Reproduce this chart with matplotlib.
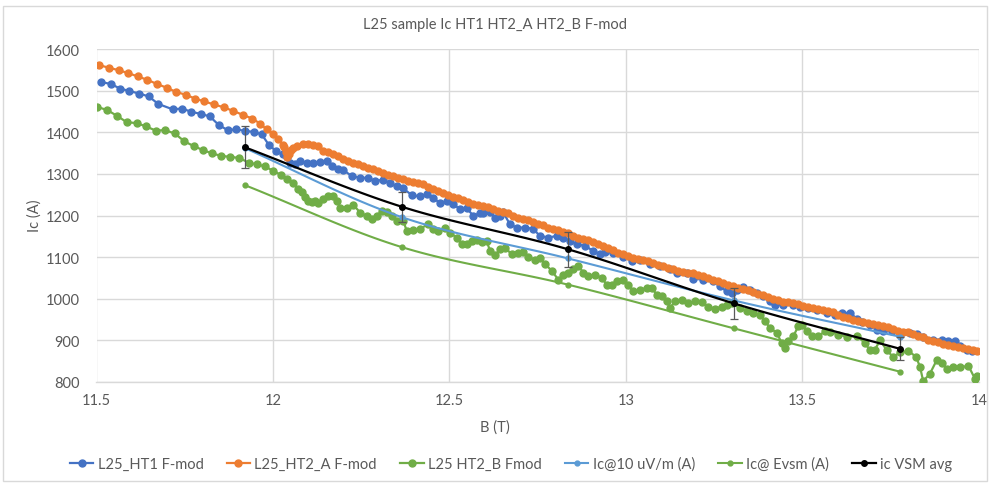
import numpy as np
import matplotlib
matplotlib.use("Agg")
import matplotlib.pyplot as plt
from matplotlib.patches import Rectangle

plt.rcParams['font.family'] = ['Lato', 'DejaVu Sans']

# ---------------- data ----------------
ht1_b = [11.512, 11.540, 11.567, 11.593, 11.621, 11.648, 11.675, 11.716, 11.742, 11.769,
         11.796, 11.821, 11.847, 11.872, 11.896, 11.922, 11.945, 11.968, 11.988, 12.008,
         12.027, 12.040, 12.048, 12.062, 12.076, 12.095, 12.114, 12.133, 12.152, 12.166,
         12.185, 12.199, 12.223, 12.246, 12.270, 12.289, 12.312, 12.331, 12.350, 12.369,
         12.393, 12.416, 12.435, 12.454, 12.473, 12.492, 12.511, 12.530, 12.549, 12.567,
         12.586, 12.596, 12.615, 12.629, 12.643, 12.652, 12.671, 12.690, 12.714, 12.737,
         12.756, 12.780, 12.804, 12.822, 12.841, 12.860, 12.884, 12.907, 12.926, 12.940,
         12.964, 12.992, 13.016, 13.040, 13.068, 13.096, 13.124, 13.144, 13.172, 13.191,
         13.219, 13.247, 13.266, 13.285, 13.299, 13.314, 13.332, 13.351, 13.370, 13.389,
         13.408, 13.422, 13.446, 13.474, 13.493, 13.516, 13.540, 13.569, 13.592, 13.611,
         13.635, 13.654, 13.668, 13.691, 13.710, 13.729, 13.753, 13.776, 13.805, 13.824,
         13.842, 13.871, 13.894, 13.913, 13.932, 13.946, 13.965, 13.979]
ht1_ic = [1521, 1516, 1505, 1499, 1493, 1486, 1468, 1455, 1457, 1449,
          1444, 1438, 1417, 1405, 1407, 1403, 1401, 1395, 1370, 1355,
          1347, 1340, 1327, 1323, 1331, 1327, 1325, 1329, 1331, 1319,
          1311, 1309, 1295, 1291, 1290, 1283, 1286, 1278, 1270, 1265,
          1249, 1246, 1251, 1243, 1229, 1235, 1227, 1215, 1217, 1200,
          1205, 1207, 1208, 1195, 1199, 1208, 1179, 1171, 1171, 1168,
          1151, 1147, 1151, 1147, 1139, 1131, 1127, 1115, 1107, 1112,
          1111, 1101, 1091, 1093, 1083, 1079, 1071, 1063, 1063, 1048,
          1046, 1042, 1030, 1018, 1013, 1022, 1029, 1022, 1014, 1006,
          994, 986, 986, 986, 981, 978, 974, 966, 960, 966,
          966, 952, 944, 938, 926, 922, 922, 914, 918, 916,
          909, 902, 902, 898, 898, 886, 878, 874]

ht2a_b = [11.508, 11.535, 11.563, 11.590, 11.617, 11.644, 11.671, 11.699, 11.725, 11.753,
          11.779, 11.805, 11.833, 11.860, 11.888, 11.914, 11.941, 11.963, 11.982, 11.999,
          12.015, 12.027, 12.031, 12.037, 12.041, 12.045, 12.051, 12.058, 12.068, 12.086,
          12.099, 12.114, 12.128, 12.143, 12.156, 12.171, 12.184, 12.199, 12.213, 12.228,
          12.241, 12.256, 12.269, 12.284, 12.298, 12.313, 12.326, 12.341, 12.354, 12.369,
          12.382, 12.398, 12.411, 12.426, 12.439, 12.454, 12.467, 12.482, 12.496, 12.511,
          12.524, 12.539, 12.552, 12.567, 12.581, 12.595, 12.609, 12.623, 12.637, 12.652,
          12.666, 12.680, 12.694, 12.708, 12.722, 12.737, 12.751, 12.765, 12.779, 12.793,
          12.807, 12.822, 12.836, 12.850, 12.864, 12.878, 12.892, 12.907, 12.921, 12.935,
          12.949, 12.963, 12.977, 12.992, 13.006, 13.020, 13.034, 13.048, 13.062, 13.077,
          13.091, 13.105, 13.119, 13.133, 13.147, 13.162, 13.176, 13.190, 13.204, 13.218,
          13.232, 13.247, 13.261, 13.275, 13.289, 13.303, 13.317, 13.331, 13.346, 13.360,
          13.374, 13.388, 13.402, 13.416, 13.431, 13.445, 13.459, 13.473, 13.487, 13.501,
          13.516, 13.530, 13.544, 13.558, 13.572, 13.586, 13.601, 13.615, 13.629, 13.643,
          13.657, 13.671, 13.686, 13.700, 13.714, 13.728, 13.742, 13.756, 13.771, 13.785,
          13.799, 13.813, 13.827, 13.841, 13.856, 13.870, 13.884, 13.898, 13.912, 13.926,
          13.941, 13.955, 13.969, 13.983, 13.994]
ht2a_ic = [1561, 1555, 1549, 1542, 1534, 1526, 1516, 1507, 1497, 1490,
           1481, 1474, 1467, 1460, 1451, 1442, 1433, 1421, 1407, 1395,
           1383, 1370, 1365, 1352, 1341, 1348, 1357, 1363, 1367, 1371,
           1372, 1369, 1366, 1356, 1352, 1347, 1342, 1336, 1331, 1327,
           1323, 1319, 1315, 1311, 1306, 1302, 1298, 1295, 1291, 1287,
           1284, 1281, 1278, 1275, 1269, 1263, 1259, 1255, 1250, 1245,
           1241, 1237, 1232, 1227, 1226, 1222, 1220, 1216, 1212, 1208,
           1205, 1200, 1195, 1191, 1188, 1185, 1180, 1176, 1170, 1167,
           1165, 1161, 1157, 1150, 1146, 1143, 1140, 1136, 1132, 1127,
           1122, 1116, 1111, 1107, 1103, 1099, 1096, 1093, 1091, 1086,
           1082, 1078, 1074, 1071, 1067, 1065, 1063, 1061, 1058, 1054,
           1050, 1046, 1042, 1038, 1034, 1030, 1027, 1024, 1020, 1016,
           1012, 1008, 1004, 1000, 996, 993, 992, 990, 987, 983,
           979, 977, 975, 972, 970, 968, 961, 956, 953, 950,
           946, 943, 941, 940, 938, 935, 931, 927, 923, 921,
           919, 915, 911, 907, 902, 899, 895, 892, 889, 886,
           883, 881, 879, 877, 874]

ht2b_b = [11.502, 11.531, 11.557, 11.586, 11.614, 11.640, 11.668, 11.694, 11.722, 11.749,
          11.775, 11.802, 11.828, 11.854, 11.879, 11.905, 11.931, 11.954, 11.977, 12.001,
          12.022, 12.040, 12.058, 12.072, 12.081, 12.091, 12.100, 12.110, 12.119, 12.128,
          12.143, 12.157, 12.171, 12.181, 12.190, 12.209, 12.228, 12.247, 12.265, 12.280,
          12.294, 12.308, 12.322, 12.336, 12.350, 12.369, 12.379, 12.398, 12.416, 12.440,
          12.454, 12.468, 12.487, 12.501, 12.520, 12.535, 12.549, 12.563, 12.577, 12.591,
          12.605, 12.615, 12.629, 12.643, 12.657, 12.676, 12.695, 12.709, 12.723, 12.742,
          12.756, 12.771, 12.790, 12.808, 12.822, 12.837, 12.851, 12.865, 12.879, 12.893,
          12.912, 12.931, 12.945, 12.960, 12.974, 12.992, 13.007, 13.021, 13.040, 13.059,
          13.073, 13.087, 13.101, 13.115, 13.125, 13.139, 13.158, 13.177, 13.196, 13.214,
          13.233, 13.252, 13.271, 13.285, 13.299, 13.323, 13.342, 13.361, 13.380, 13.394,
          13.408, 13.427, 13.441, 13.450, 13.460, 13.474, 13.488, 13.498, 13.512, 13.526,
          13.545, 13.564, 13.578, 13.601, 13.625, 13.654, 13.677, 13.691, 13.705, 13.720,
          13.739, 13.757, 13.776, 13.800, 13.822, 13.833, 13.842, 13.861, 13.880, 13.894,
          13.909, 13.927, 13.946, 13.970, 13.989, 13.995]
ht2b_ic = [1461, 1453, 1440, 1424, 1422, 1414, 1404, 1405, 1397, 1378,
           1367, 1357, 1349, 1343, 1341, 1338, 1327, 1323, 1318, 1307,
           1298, 1287, 1279, 1263, 1257, 1245, 1236, 1232, 1235, 1229,
           1240, 1247, 1246, 1236, 1219, 1219, 1225, 1207, 1199, 1191,
           1199, 1211, 1208, 1199, 1187, 1187, 1163, 1165, 1168, 1179,
           1167, 1163, 1171, 1159, 1147, 1131, 1131, 1139, 1140, 1136,
           1139, 1115, 1104, 1119, 1123, 1107, 1109, 1112, 1101, 1093,
           1099, 1083, 1067, 1046, 1056, 1063, 1071, 1079, 1063, 1054,
           1056, 1051, 1034, 1034, 1042, 1046, 1034, 1018, 1022, 1026,
           1026, 1010, 1006, 994, 978, 994, 998, 990, 994, 992,
           981, 976, 981, 986, 989, 978, 970, 966, 962, 946,
           930, 918, 894, 882, 898, 910, 934, 938, 922, 910,
           910, 922, 921, 914, 909, 910, 894, 876, 878, 900,
           876, 860, 871, 875, 860, 836, 802, 820, 852, 846,
           831, 835, 835, 839, 807, 815]

vsm_b = [11.920, 12.365, 12.835, 13.305, 13.775]
ic10_ic = [1362, 1196, 1097, 996, 909]
icevsm_ic = [1273, 1124, 1034, 929, 825]
vsm_avg_ic = [1364, 1221, 1119, 989, 880]
vsm_err = [51, 36, 42, 38, 28]

legend_labels = ["L25_HT1 F-mod", "L25_HT2_A F-mod", "L25 HT2_B Fmod",
                 "Ic@10 uV/m (A)", "Ic@ Evsm (A)", "ic VSM avg"]
title_text = "L25 sample Ic HT1 HT2_A HT2_B F-mod"
x_ticks = [11.5, 12, 12.5, 13, 13.5, 14]
y_ticks = [800, 900, 1000, 1100, 1200, 1300, 1400, 1500, 1600]

# ---------------- helpers ----------------
def smooth(xs, ys, n=24):
    """Catmull-Rom curve through the given points (Excel-like smoothed line)."""
    x = np.asarray(xs, float); y = np.asarray(ys, float)
    P = np.column_stack([x, y])
    P = np.vstack([2 * P[0] - P[1], P, 2 * P[-1] - P[-2]])
    out = []
    for i in range(1, len(P) - 2):
        p0, p1, p2, p3 = P[i - 1], P[i], P[i + 1], P[i + 2]
        t = np.linspace(0, 1, n, endpoint=(i == len(P) - 3))[:, None]
        c = 0.5 * ((2 * p1) + (-p0 + p2) * t + (2 * p0 - 5 * p1 + 4 * p2 - p3) * t ** 2
                   + (-p0 + 3 * p1 - 3 * p2 + p3) * t ** 3)
        out.append(c)
    c = np.vstack(out)
    return c[:, 0], c[:, 1]

# ---------------- figure ----------------
W, H = 990, 485
fig = plt.figure(figsize=(W / 100, H / 100), dpi=100)
fig.patch.set_facecolor('white')
fig.patches.append(Rectangle((3 / W, 3 / H), 1 - 6 / W, 1 - 10 / H, transform=fig.transFigure,
                             fill=False, edgecolor='#D9D9D9', linewidth=1.0))

L, R, T, B = 96.5, 979, 50, 383
ax = fig.add_axes([L / W, (H - B) / H, (R - L) / W, (B - T) / H])
ax.set_xlim(11.5, 14)
ax.set_ylim(800, 1600)
ax.set_xticks(x_ticks)
ax.set_xticklabels([f"{v:g}" for v in x_ticks])
ax.set_yticks(y_ticks)
ax.set_yticklabels([str(v) for v in y_ticks])
ax.grid(True, color='#D9D9D9', linewidth=1.0)
ax.set_axisbelow(True)
for s in ['top', 'right', 'left']:
    ax.spines[s].set_visible(False)
ax.spines['bottom'].set_color('#D9D9D9')
ax.spines['bottom'].set_linewidth(1.0)
ax.tick_params(axis='both', length=0, labelsize=10.5, colors='#595959')
ax.tick_params(axis='y', pad=12)
ax.tick_params(axis='x', pad=8)

blue, orange, green, lblue = '#4472C4', '#ED7D31', '#70AD47', '#5B9BD5'

h1, = ax.plot(ht1_b, ht1_ic, '-o', color=blue, lw=1.6, ms=5, zorder=3)
h2, = ax.plot(ht2a_b, ht2a_ic, '-o', color=orange, lw=1.6, ms=5, zorder=4)
h3, = ax.plot(ht2b_b, ht2b_ic, '-o', color=green, lw=1.6, ms=5, zorder=5)

sx, sy = smooth(vsm_b, ic10_ic)
ax.plot(sx, sy, color=lblue, lw=1.5, zorder=6)
ax.plot(vsm_b, ic10_ic, 'o', color=lblue, ms=3.5, zorder=6)
h4, = ax.plot([], [], '-o', color=lblue, lw=1.5, ms=3.5)

sx, sy = smooth(vsm_b, icevsm_ic)
ax.plot(sx, sy, color=green, lw=1.5, zorder=6)
ax.plot(vsm_b, icevsm_ic, 'o', color=green, ms=3.5, zorder=6)
h5, = ax.plot([], [], '-o', color=green, lw=1.5, ms=3.5)

ax.errorbar(vsm_b, vsm_avg_ic, yerr=vsm_err, fmt='none', ecolor='#595959',
            elinewidth=0.9, capsize=3, capthick=0.9, zorder=7)
sx, sy = smooth(vsm_b, vsm_avg_ic)
ax.plot(sx, sy, color='black', lw=1.6, zorder=8)
ax.plot(vsm_b, vsm_avg_ic, 'o', color='black', ms=4, zorder=8)
h6, = ax.plot([], [], '-o', color='black', lw=1.6, ms=4)

fig.text(0.5, 1 - 25 / H, title_text, ha='center', va='center', fontsize=10.5, color='#595959')
fig.text(0.5, 1 - 428 / H, "B (T)", ha='center', va='center', fontsize=10.5, color='#595959')
fig.text(35 / W, 1 - 216 / H, "Ic (A)", ha='center', va='center', rotation=90,
         fontsize=10.5, color='#595959')

leg = fig.legend([h1, h2, h3, h4, h5, h6], legend_labels, loc='center',
                 bbox_to_anchor=(511 / W, 1 - 465 / H), ncol=6, frameon=False,
                 fontsize=10.5, handlelength=1.6, handletextpad=0.3, columnspacing=1.6)
for t in leg.get_texts():
    t.set_color('#595959')

fig.savefig('out.png', dpi=100, facecolor='white')
